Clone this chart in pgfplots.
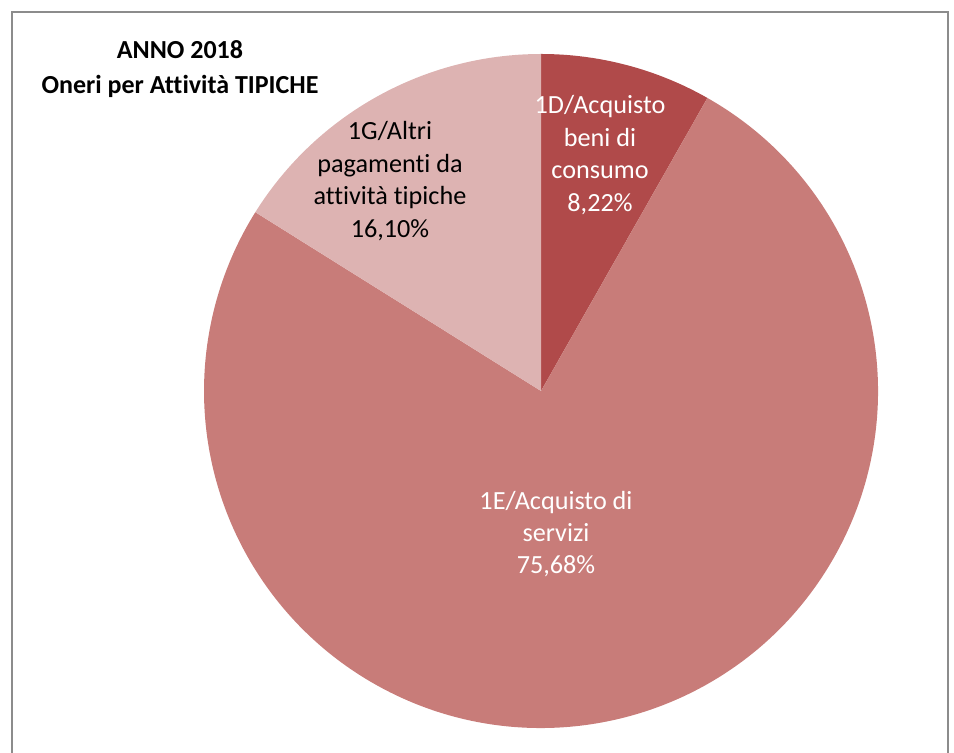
\documentclass[border=0pt]{standalone}
\usepackage{fontspec}
\setmainfont[Ligatures=NoCommon]{Carlito}
\usepackage{pgfplots}
\pgfplotsset{compat=1.18}
\usepackage{pgfplotstable}
\definecolor{sliceD}{HTML}{B04A4A}
\definecolor{sliceE}{HTML}{C87C79}
\definecolor{sliceG}{HTML}{DDB3B2}
\definecolor{framegray}{HTML}{8C8C8C}

% percentages of the three slices, clockwise from 12 o'clock
\pgfplotstableread[col sep=comma]{
name,value
1D,8.22
1E,75.68
1G,16.10
}\piedata

\begin{document}
\begin{tikzpicture}
\pgfplotstablegetelem{0}{value}\of\piedata \let\vD\pgfplotsretval
\pgfplotstablegetelem{1}{value}\of\piedata \let\vE\pgfplotsretval
\pgfplotstablegetelem{2}{value}\of\piedata \let\vG\pgfplotsretval
\pgfmathsetmacro\aA{90}
\pgfmathsetmacro\aB{\aA-3.6*\vD}
\pgfmathsetmacro\aC{\aB-3.6*\vE}
\pgfmathsetmacro\aD{\aC-3.6*\vG}
\begin{axis}[hide axis, scale only axis, width=477pt, height=376.5pt,
  xmin=0, xmax=954, ymin=0, ymax=753, clip=false]
\coordinate (bl) at (axis cs:0,0);
\coordinate (tr) at (axis cs:954,753);
% chart frame (bottom edge lies below the picture)
\draw[framegray, line width=0.8pt] (axis cs:12,-30) -- (axis cs:12,741) -- (axis cs:948,741) -- (axis cs:948,-30);
% slices, centre (541,362), radius 337
\fill[sliceD] (axis cs:541,362) -- ++(axis direction cs:{337*cos(\aA)},{337*sin(\aA)})
  arc[start angle=\aA, end angle=\aB, radius=337] -- cycle;
\fill[sliceE] (axis cs:541,362) -- ++(axis direction cs:{337*cos(\aB)},{337*sin(\aB)})
  arc[start angle=\aB, end angle=\aC, radius=337] -- cycle;
\fill[sliceG] (axis cs:541,362) -- ++(axis direction cs:{337*cos(\aC)},{337*sin(\aC)})
  arc[start angle=\aC, end angle=\aD, radius=337] -- cycle;
% labels
\node[align=center, font=\fontsize{13.1}{16.2}\selectfont, text=white] at (axis cs:600,598)
  {1D/Acquisto\\beni di\\consumo\\8,22\%};
\node[align=center, font=\fontsize{13.1}{16.2}\selectfont, text=white] at (axis cs:556,219)
  {1E/Acquisto di\\servizi\\75,68\%};
\node[align=center, font=\fontsize{13.1}{16.2}\selectfont, text=black] at (axis cs:390,572)
  {1G/Altri\\pagamenti da\\attività tipiche\\16,10\%};
\node[align=center, font=\bfseries\fontsize{13}{17.5}\selectfont] at (axis cs:180,684)
  {ANNO 2018\\Oneri per Attività TIPICHE};
\end{axis}
\pgfresetboundingbox
\path[use as bounding box] (bl) rectangle (tr);
\end{tikzpicture}
\end{document}
